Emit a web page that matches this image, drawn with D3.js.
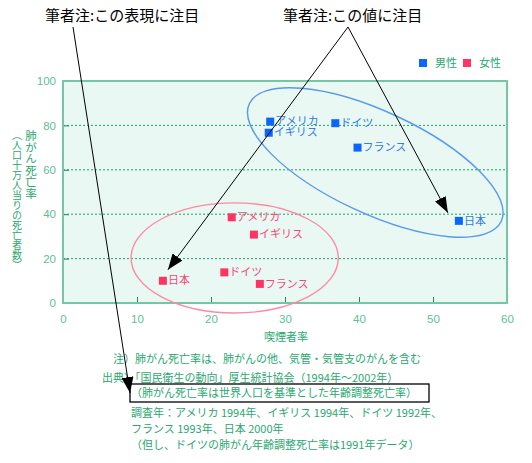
<!DOCTYPE html>
<html>
<head>
<meta charset="utf-8">
<script src="https://cdn.jsdelivr.net/npm/d3@7"></script>
<style>
  body { margin: 0; background: #fff; }
  svg { display: block; }
</style>
</head>
<body>
<div class="canvas"></div>
<script>
const countries = ['アメリカ', 'イギリス', 'ドイツ', 'フランス', '日本'];
// 喫煙者率 (%)
const maleSmoke = [28, 27.8, 36.8, 39.8, 53.5];
const femaleSmoke = [22.8, 25.8, 21.8, 26.6, 13.5];
// 肺がん死亡率 (人口十万人当り)
const maleRate = [81.7, 76.7, 81, 70, 37];
const femaleRate = [38.6, 30.8, 13.8, 8.6, 10];

const xTicks = [0, 10, 20, 30, 40, 50, 60];
const yTicks = [0, 20, 40, 60, 80, 100];

const notes = [
  '注）肺がん死亡率は、肺がんの他、気管・気管支のがんを含む',
  '出典）「国民衛生の動向」厚生統計協会（1994年～2002年）',
  '（肺がん死亡率は世界人口を基準とした年齢調整死亡率）',
  '調査年：アメリカ 1994年、イギリス 1994年、ドイツ 1992年、',
  'フランス 1993年、日本 2000年',
  '（但し、ドイツの肺がん年齢調整死亡率は1991年データ）'
];

const dims = { width: 532, height: 463 };
const plot = { left: 63, right: 507, top: 81, bottom: 303 };
const jp = '"Noto Sans CJK JP", "Noto Sans", sans-serif';
const green = '#2aa870';
const tickGreen = '#5cbf98';
const maleCol = '#0a66ff', femaleCol = '#ff3366';

const svg = d3.select('.canvas')
  .append('svg')
  .attr('width', dims.width)
  .attr('height', dims.height);

const x = d3.scaleLinear().domain([0, 60]).range([plot.left, plot.right]);
const y = d3.scaleLinear().domain([0, 100]).range([plot.bottom, plot.top]);

// background
svg.append('rect')
  .attr('x', plot.left).attr('y', plot.top)
  .attr('width', plot.right - plot.left).attr('height', plot.bottom - plot.top)
  .attr('fill', '#e9f8f2');

// grid
svg.append('g')
  .selectAll('line')
  .data(yTicks.filter(d => d > 0 && d < 100))
  .enter().append('line')
  .attr('x1', plot.left).attr('x2', plot.right)
  .attr('y1', d => y(d)).attr('y2', d => y(d))
  .attr('stroke', '#22a06e')
  .attr('stroke-dasharray', '2,2');

// axes
const xAxis = svg.append('g')
  .attr('transform', `translate(0, ${plot.bottom})`)
  .call(d3.axisBottom(x).tickValues(xTicks).tickSizeInner(-6).tickSizeOuter(0).tickPadding(12));
const yAxis = svg.append('g')
  .attr('transform', `translate(${plot.left}, 0)`)
  .call(d3.axisLeft(y).tickValues(yTicks).tickSizeInner(-6).tickSizeOuter(0).tickPadding(7));

[xAxis, yAxis].forEach(a => {
  a.select('.domain').remove();
  a.selectAll('.tick line').attr('stroke', '#1e8a5e');
  a.selectAll('.tick text')
    .attr('fill', tickGreen)
    .attr('font-family', 'Liberation Sans, Arial, sans-serif')
    .attr('font-size', 11.5);
});
xAxis.selectAll('.tick').filter(d => d === 0 || d === 60).select('line').remove();
yAxis.selectAll('.tick').filter(d => d === 0 || d === 100).select('line').remove();

// frame
svg.append('rect')
  .attr('x', plot.left).attr('y', plot.top)
  .attr('width', plot.right - plot.left).attr('height', plot.bottom - plot.top)
  .attr('fill', 'none')
  .attr('stroke', '#74c6a6')
  .attr('stroke-width', 2);

// axis titles
svg.append('text')
  .attr('x', 286).attr('y', 341)
  .attr('text-anchor', 'middle')
  .attr('font-family', jp).attr('font-size', 11)
  .attr('fill', green)
  .text('喫煙者率');

svg.append('text')
  .attr('x', 31).attr('y', 130)
  .attr('font-family', jp).attr('font-size', 11.5)
  .attr('fill', green)
  .style('writing-mode', 'vertical-rl')
  .text('肺がん死亡率');
svg.append('text')
  .attr('x', 17).attr('y', 130)
  .attr('font-family', jp).attr('font-size', 10)
  .attr('fill', green)
  .style('writing-mode', 'vertical-rl')
  .text('（人口十万人当りの死亡者数）');

// ellipses
svg.append('ellipse')
  .attr('cx', x(23.2)).attr('cy', y(20.3))
  .attr('rx', x(14) - x(0)).attr('ry', y(0) - y(24.8))
  .attr('fill', 'none')
  .attr('stroke', '#ff88a8')
  .attr('stroke-width', 1.4);
svg.append('ellipse')
  .attr('transform', `translate(${x(42.2)}, ${y(63.3)}) rotate(25)`)
  .attr('rx', 139).attr('ry', 51)
  .attr('fill', 'none')
  .attr('stroke', '#5599ee')
  .attr('stroke-width', 1.4);

// points
const drawSeries = (xs, ys, col, labelCol) => {
  const g = svg.append('g');
  const pts = g.selectAll('g').data(countries).enter().append('g')
    .attr('transform', (d, i) => `translate(${x(xs[i])}, ${y(ys[i])})`);
  pts.append('rect')
    .attr('x', -4).attr('y', -4).attr('width', 8).attr('height', 8)
    .attr('fill', col);
  pts.append('text')
    .attr('x', 5).attr('dy', '0.33em')
    .attr('font-family', jp).attr('font-size', 11)
    .attr('fill', labelCol)
    .text(d => d);
};
drawSeries(maleSmoke, maleRate, maleCol, '#2f7be8');
drawSeries(femaleSmoke, femaleRate, femaleCol, '#f5477a');

// legend
const legend = svg.append('g').attr('transform', 'translate(419, 63)');
[['男性', maleCol, 0], ['女性', femaleCol, 44]].forEach(([t, c, dx]) => {
  legend.append('rect').attr('x', dx).attr('y', -4).attr('width', 8).attr('height', 8).attr('fill', c);
  legend.append('text').attr('x', dx + 16).attr('dy', '0.35em')
    .attr('font-family', jp).attr('font-size', 11).attr('fill', green).text(t);
});

// notes
const noteX = [113, 102, 131, 131, 131, 131];
const noteY = [363, 382, 397, 417, 433, 449];
svg.append('g').selectAll('text').data(notes).enter().append('text')
  .attr('x', (d, i) => noteX[i]).attr('y', (d, i) => noteY[i])
  .attr('font-family', jp).attr('font-size', 11)
  .attr('fill', green)
  .text(d => d);

svg.append('rect')
  .attr('x', 130).attr('y', 384).attr('width', 299).attr('height', 18)
  .attr('fill', 'none').attr('stroke', '#000').attr('stroke-width', 1.3);

// annotations
svg.append('defs').append('marker')
  .attr('id', 'head')
  .attr('markerUnits', 'userSpaceOnUse')
  .attr('viewBox', '0 0 16 12')
  .attr('refX', 16).attr('refY', 6)
  .attr('markerWidth', 16).attr('markerHeight', 12)
  .attr('orient', 'auto')
  .append('path').attr('d', 'M0,0 L16,6 L0,12 Z').attr('fill', '#000');

svg.append('text')
  .attr('x', 45).attr('y', 21)
  .attr('font-family', jp).attr('font-size', 15)
  .text('筆者注:この表現に注目');
svg.append('text')
  .attr('x', 283).attr('y', 21)
  .attr('font-family', jp).attr('font-size', 15)
  .text('筆者注:この値に注目');

const arrow = (x1, y1, x2, y2) => svg.append('line')
  .attr('x1', x1).attr('y1', y1).attr('x2', x2).attr('y2', y2)
  .attr('stroke', '#000').attr('stroke-width', 1)
  .attr('marker-end', 'url(#head)');
arrow(73, 27, 130, 393);
arrow(348, 27, x(femaleSmoke[4]) + 5, y(femaleRate[4]) - 11);
arrow(348, 27, x(maleSmoke[4]) - 11, y(maleRate[4]) - 8);
</script>
</body>
</html>
